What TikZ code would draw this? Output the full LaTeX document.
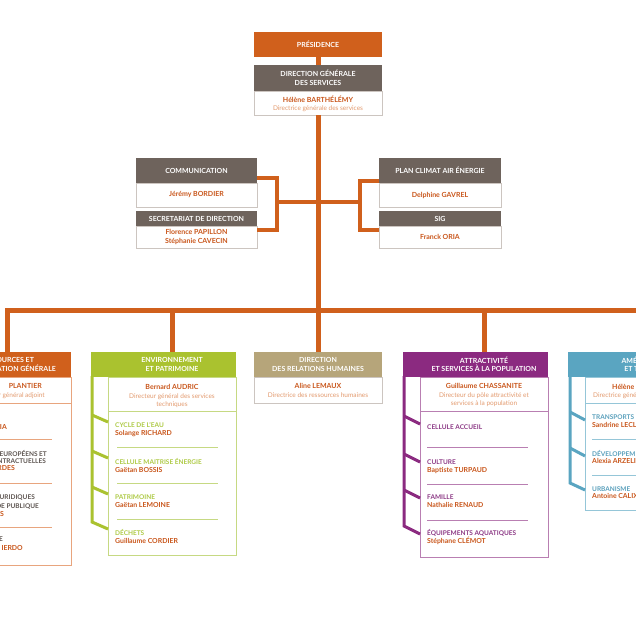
\documentclass[tikz,border=0pt]{standalone}
\usepackage{fontspec}
\setmainfont{Lato}
\definecolor{org}{HTML}{D0601C}
\definecolor{orgtxt}{HTML}{C9561B}
\definecolor{orglt}{HTML}{E39A6E}
\definecolor{orgbd}{HTML}{E8A57E}
\definecolor{gryh}{HTML}{6E635C}
\definecolor{grybd}{HTML}{CCC5C0}
\definecolor{grytxt}{HTML}{5E5652}
\definecolor{tan}{HTML}{B6A57A}
\definecolor{grn}{HTML}{AAC22F}
\definecolor{grntxt}{HTML}{AECA45}
\definecolor{grnbd}{HTML}{C6D983}
\definecolor{pur}{HTML}{8B2A80}
\definecolor{purtxt}{HTML}{8D3A86}
\definecolor{purbd}{HTML}{B97FB2}
\definecolor{blu}{HTML}{5AA5C1}
\definecolor{blutxt}{HTML}{5AA0BC}
\definecolor{blubd}{HTML}{95C6D8}
\newcommand\obhdr{\fontsize{7}{8.5}\selectfont\bfseries}
\newcommand\obname{\fontsize{7}{8.5}\selectfont\bfseries}
\newcommand\obdesc{\fontsize{6.5}{8.5}\selectfont}
\newcommand\obitem{\fontsize{6.5}{7.5}\selectfont\bfseries}
\newcommand\obiname{\fontsize{6.9}{7.5}\selectfont\bfseries}
\begin{document}
\begin{tikzpicture}[x=1pt,y=-1pt,
  box/.style={inner sep=0, minimum width=128pt, minimum height=#1},
  hdr/.style={fill=#1, text=white, font=\obhdr, align=center, inner sep=0},
  wbox/.style={draw=grybd, line width=0.6pt, fill=white, inner sep=0},
  txt/.style={inner sep=0, anchor=mid},
  nm/.style={txt, font=\obname, text=orgtxt},
  ds/.style={txt, font=\obdesc, text=orglt},
  it/.style={inner sep=0, anchor=mid west, font=\obitem},
  iname/.style={inner sep=0, anchor=mid west, font=\obiname, text=orgtxt},
  trunk/.style={draw=org, line width=5pt},
  brk/.style={draw=org, line width=4pt},
  bar/.style={line width=3pt},
  sep/.style={line width=0.8pt}]
\useasboundingbox (0,0) rectangle (636,636);
\clip (0,0) rectangle (636,636);
\fill[white] (0,0) rectangle (636,636);

% ---------- top ----------
\node[box=25pt, hdr=org] (pres) at (318,44.5) {PRÉSIDENCE};
\node[box=26pt, hdr=gryh] (dgsh) at (318,78) {DIRECTION GÉNÉRALE\\DES SERVICES};
\node[box=24pt, wbox] (dgsb) at (318,103) {};
\node[nm] (dgsn) at (318,99.5) {Hélène BARTHÉLÉMY};
\node[ds] (dgsd) at (318,107.5) {Directrice générale des services};

\node[box=25pt, minimum width=121pt, hdr=gryh] (commh) at (196.5,170.5) {COMMUNICATION};
\node[box=24pt, minimum width=121pt, wbox, font=\obname, text=orgtxt] (commb) at (196.5,195) {Jérémy BORDIER};
\node[box=15pt, minimum width=121pt, hdr=gryh] (sech) at (196.5,218.5) {SECRETARIAT DE DIRECTION};
\node[box=22pt, minimum width=121pt, wbox, font=\obname, text=orgtxt, align=center] (secb) at (196.5,237) {Florence PAPILLON\\[1.2pt]Stéphanie CAVECIN};

\node[box=25pt, minimum width=122pt, hdr=gryh] (pceh) at (440,170.5) {PLAN CLIMAT AIR ÉNERGIE};
\node[box=24pt, minimum width=122pt, wbox, font=\obname, text=orgtxt] (pceb) at (440,195) {Delphine GAVREL};
\node[box=15pt, minimum width=122pt, hdr=gryh] (sigh) at (440,218.5) {SIG};
\node[box=22pt, minimum width=122pt, wbox, font=\obname, text=orgtxt] (sigb) at (440,237) {Franck ORIA};

% trunk and brackets
\coordinate (busc) at (318,310);
\coordinate (busR) at (700,310);
\coordinate (lbr) at (277,202);
\coordinate (rbr) at (360,202);
\draw[trunk] (pres.south) -- (dgsh.north);
\draw[trunk] (dgsb.south) -- (busc);
\draw[brk] ([yshift=5pt]commh.south east) -| (lbr) |- ([yshift=-4pt]secb.north east);
\draw[brk] (lbr) -- (lbr -| dgsb.south);
\draw[brk] ([yshift=2pt]pceh.south west) -| (rbr) |- ([yshift=-4pt]sigb.north west);
\draw[brk] (rbr) -- (rbr -| dgsb.south);

% ---------- columns: boxes ----------
% orange (left, cropped)
\fill[org] (-74,352) rectangle (-57,377);
\node[box=25pt, hdr=org] (orh) at (7,364.5) {RESSOURCES ET\\ADMINISTRATION GÉNÉRALE};
\node[box=188pt, draw=orgbd, line width=0.8pt] (orb) at (7,471) {};
% green
\fill[grn] (91,352) rectangle (108,377);
\node[box=25pt, hdr=grn] (envh) at (172,364.5) {ENVIRONNEMENT\\ET PATRIMOINE};
\node[box=178pt, draw=grnbd, line width=0.8pt] (envb) at (172,466) {};
% tan
\node[box=25pt, hdr=tan] (drhh) at (318,364.5) {DIRECTION\\DES RELATIONS HUMAINES};
\node[box=26pt, wbox] (drhb) at (318,390) {};
% purple
\fill[pur] (403,352) rectangle (420,377);
\node[box=25pt, hdr=pur] (atth) at (484,364.5) {ATTRACTIVITÉ\\ET SERVICES À LA POPULATION};
\node[box=180pt, draw=purbd, line width=0.8pt] (attb) at (484,467) {};
% blue (right, cropped)
\fill[blu] (568,352) rectangle (585,377);
\node[box=25pt, hdr=blu] (amh) at (649,364.5) {AMÉNAGEMENT\\ET TERRITOIRE};
\node[box=133pt, draw=blubd, line width=0.8pt] (amb) at (649,443.5) {};

% bus and drops
\draw[trunk] (orh.north) |- (busR);
\draw[trunk] (envh.north) -- (envh.north |- busc);
\draw[trunk] (drhh.north) -- (busc);
\draw[trunk] (atth.north) -- (atth.north |- busc);
\draw[trunk] (amh.north) -- (amh.north |- busc);

% ---------- orange column content ----------
\draw[sep, draw=orgbd] (-57,403) -- (71,403);
\node[nm, anchor=mid east] (orn) at (42,386) {PLANTIER};
\node[ds, anchor=mid east] (ord) at (45,394.5) {Directeur général adjoint};
\node[iname, anchor=mid east] (or1) at (7,427) {IA};
\draw[sep, draw=orgbd] (-50,439) -- (52,439);
\node[it, anchor=mid east, text=grytxt] (or2a) at (47,454) {FONDS EUROPÉENS ET};
\node[it, anchor=mid east, text=grytxt] (or2b) at (46,461) {POLITIQUES CONTRACTUELLES};
\node[iname, anchor=mid east] (or2c) at (15,468) {RDES};
\draw[sep, draw=orgbd] (-50,483) -- (52,483);
\node[it, anchor=mid east, text=grytxt] (or3a) at (35,497) {AFFAIRES JURIDIQUES};
\node[it, anchor=mid east, text=grytxt] (or3b) at (39,506) {ET COMMANDE PUBLIQUE};
\node[iname, anchor=mid east] (or3c) at (4,514) {S};
\draw[sep, draw=orgbd] (-50,527) -- (52,527);
\node[it, anchor=mid east, text=grytxt] (or4a) at (3,539) {E};
\node[iname, anchor=mid east] (or4b) at (23,548) {IERDO};

% ---------- green column content ----------
\draw[sep, draw=grnbd] (108,411) -- (236,411);
\node[nm] (envn) at (172,386.5) {Bernard AUDRIC};
\node[ds] (envd1) at (172,395.5) {Directeur général des services};
\node[ds] (envd2) at (172,404) {techniques};
\node[it, text=grntxt] (env1a) at (115,425) {CYCLE DE L’EAU};
\node[iname] (env1b) at (115,433) {Solange RICHARD};
\draw[sep, draw=grnbd] (117,447) -- (218,447);
\node[it, text=grntxt] (env2a) at (115,461.5) {CELLULE MAITRISE ÉNERGIE};
\node[iname] (env2b) at (115,470) {Gaëtan BOSSIS};
\draw[sep, draw=grnbd] (117,483) -- (218,483);
\node[it, text=grntxt] (env3a) at (115,497) {PATRIMOINE};
\node[iname] (env3b) at (115,505) {Gaëtan LEMOINE};
\draw[sep, draw=grnbd] (117,519) -- (218,519);
\node[it, text=grntxt] (env4a) at (115,533) {DÉCHETS};
\node[iname] (env4b) at (115,541) {Guillaume CORDIER};
\draw[bar, draw=grn] (92,376) -- (92,522) -- (108,529);
\draw[bar, draw=grn] (92,415) -- (108,422);
\draw[bar, draw=grn] (92,451) -- (108,458);
\draw[bar, draw=grn] (92,487) -- (108,494);

% ---------- DRH content ----------
\node[nm] (drhn) at (318,386) {Aline LEMAUX};
\node[ds] (drhd) at (318,394.5) {Directrice des ressources humaines};

% ---------- purple column content ----------
\draw[sep, draw=purbd] (420,411) -- (548,411);
\node[nm] (attn) at (484,386) {Guillaume CHASSANITE};
\node[ds] (attd1) at (484,394.5) {Directeur du pôle attractivité et};
\node[ds] (attd2) at (484,403) {services à la population};
\node[it, text=purtxt] (att1a) at (427,427) {CELLULE ACCUEIL};
\draw[sep, draw=purbd] (427,447) -- (528,447);
\node[it, text=purtxt] (att2a) at (427,462) {CULTURE};
\node[iname] (att2b) at (427,470) {Baptiste TURPAUD};
\draw[sep, draw=purbd] (427,484) -- (528,484);
\node[it, text=purtxt] (att3a) at (427,497) {FAMILLE};
\node[iname] (att3b) at (427,505) {Nathalie RENAUD};
\draw[sep, draw=purbd] (427,520) -- (528,520);
\node[it, text=purtxt] (att4a) at (427,533) {ÉQUIPEMENTS AQUATIQUES};
\node[iname] (att4b) at (427,541) {Stéphane CLÉMOT};
\draw[bar, draw=pur] (404,376) -- (404,526) -- (420,534);
\draw[bar, draw=pur] (404,416) -- (420,424);
\draw[bar, draw=pur] (404,454) -- (420,462);
\draw[bar, draw=pur] (404,490) -- (420,498);

% ---------- blue column content ----------
\draw[sep, draw=blubd] (585,403) -- (713,403);
\node[nm, anchor=mid west] (amn) at (612,387) {Hélène BARTHÉLÉMY};
\node[ds, anchor=mid west] (amd) at (593,394.5) {Directrice générale adjointe};
\node[it, text=blutxt] (am1a) at (592,417) {TRANSPORTS};
\node[iname] (am1b) at (592,425) {Sandrine LECLERC};
\draw[sep, draw=blubd] (592,439) -- (693,439);
\node[it, text=blutxt] (am2a) at (592,454) {DÉVELOPPEMENT};
\node[iname] (am2b) at (592,461) {Alexia ARZELIER};
\draw[sep, draw=blubd] (592,475) -- (693,475);
\node[it, text=blutxt] (am3a) at (592,489) {URBANISME};
\node[iname] (am3b) at (592,496) {Antoine CALIXTE};
\draw[bar, draw=blu] (570,376) -- (570,483) -- (585,490);
\draw[bar, draw=blu] (570,412) -- (585,420);
\draw[bar, draw=blu] (570,448) -- (585,456);
\end{tikzpicture}
\end{document}
